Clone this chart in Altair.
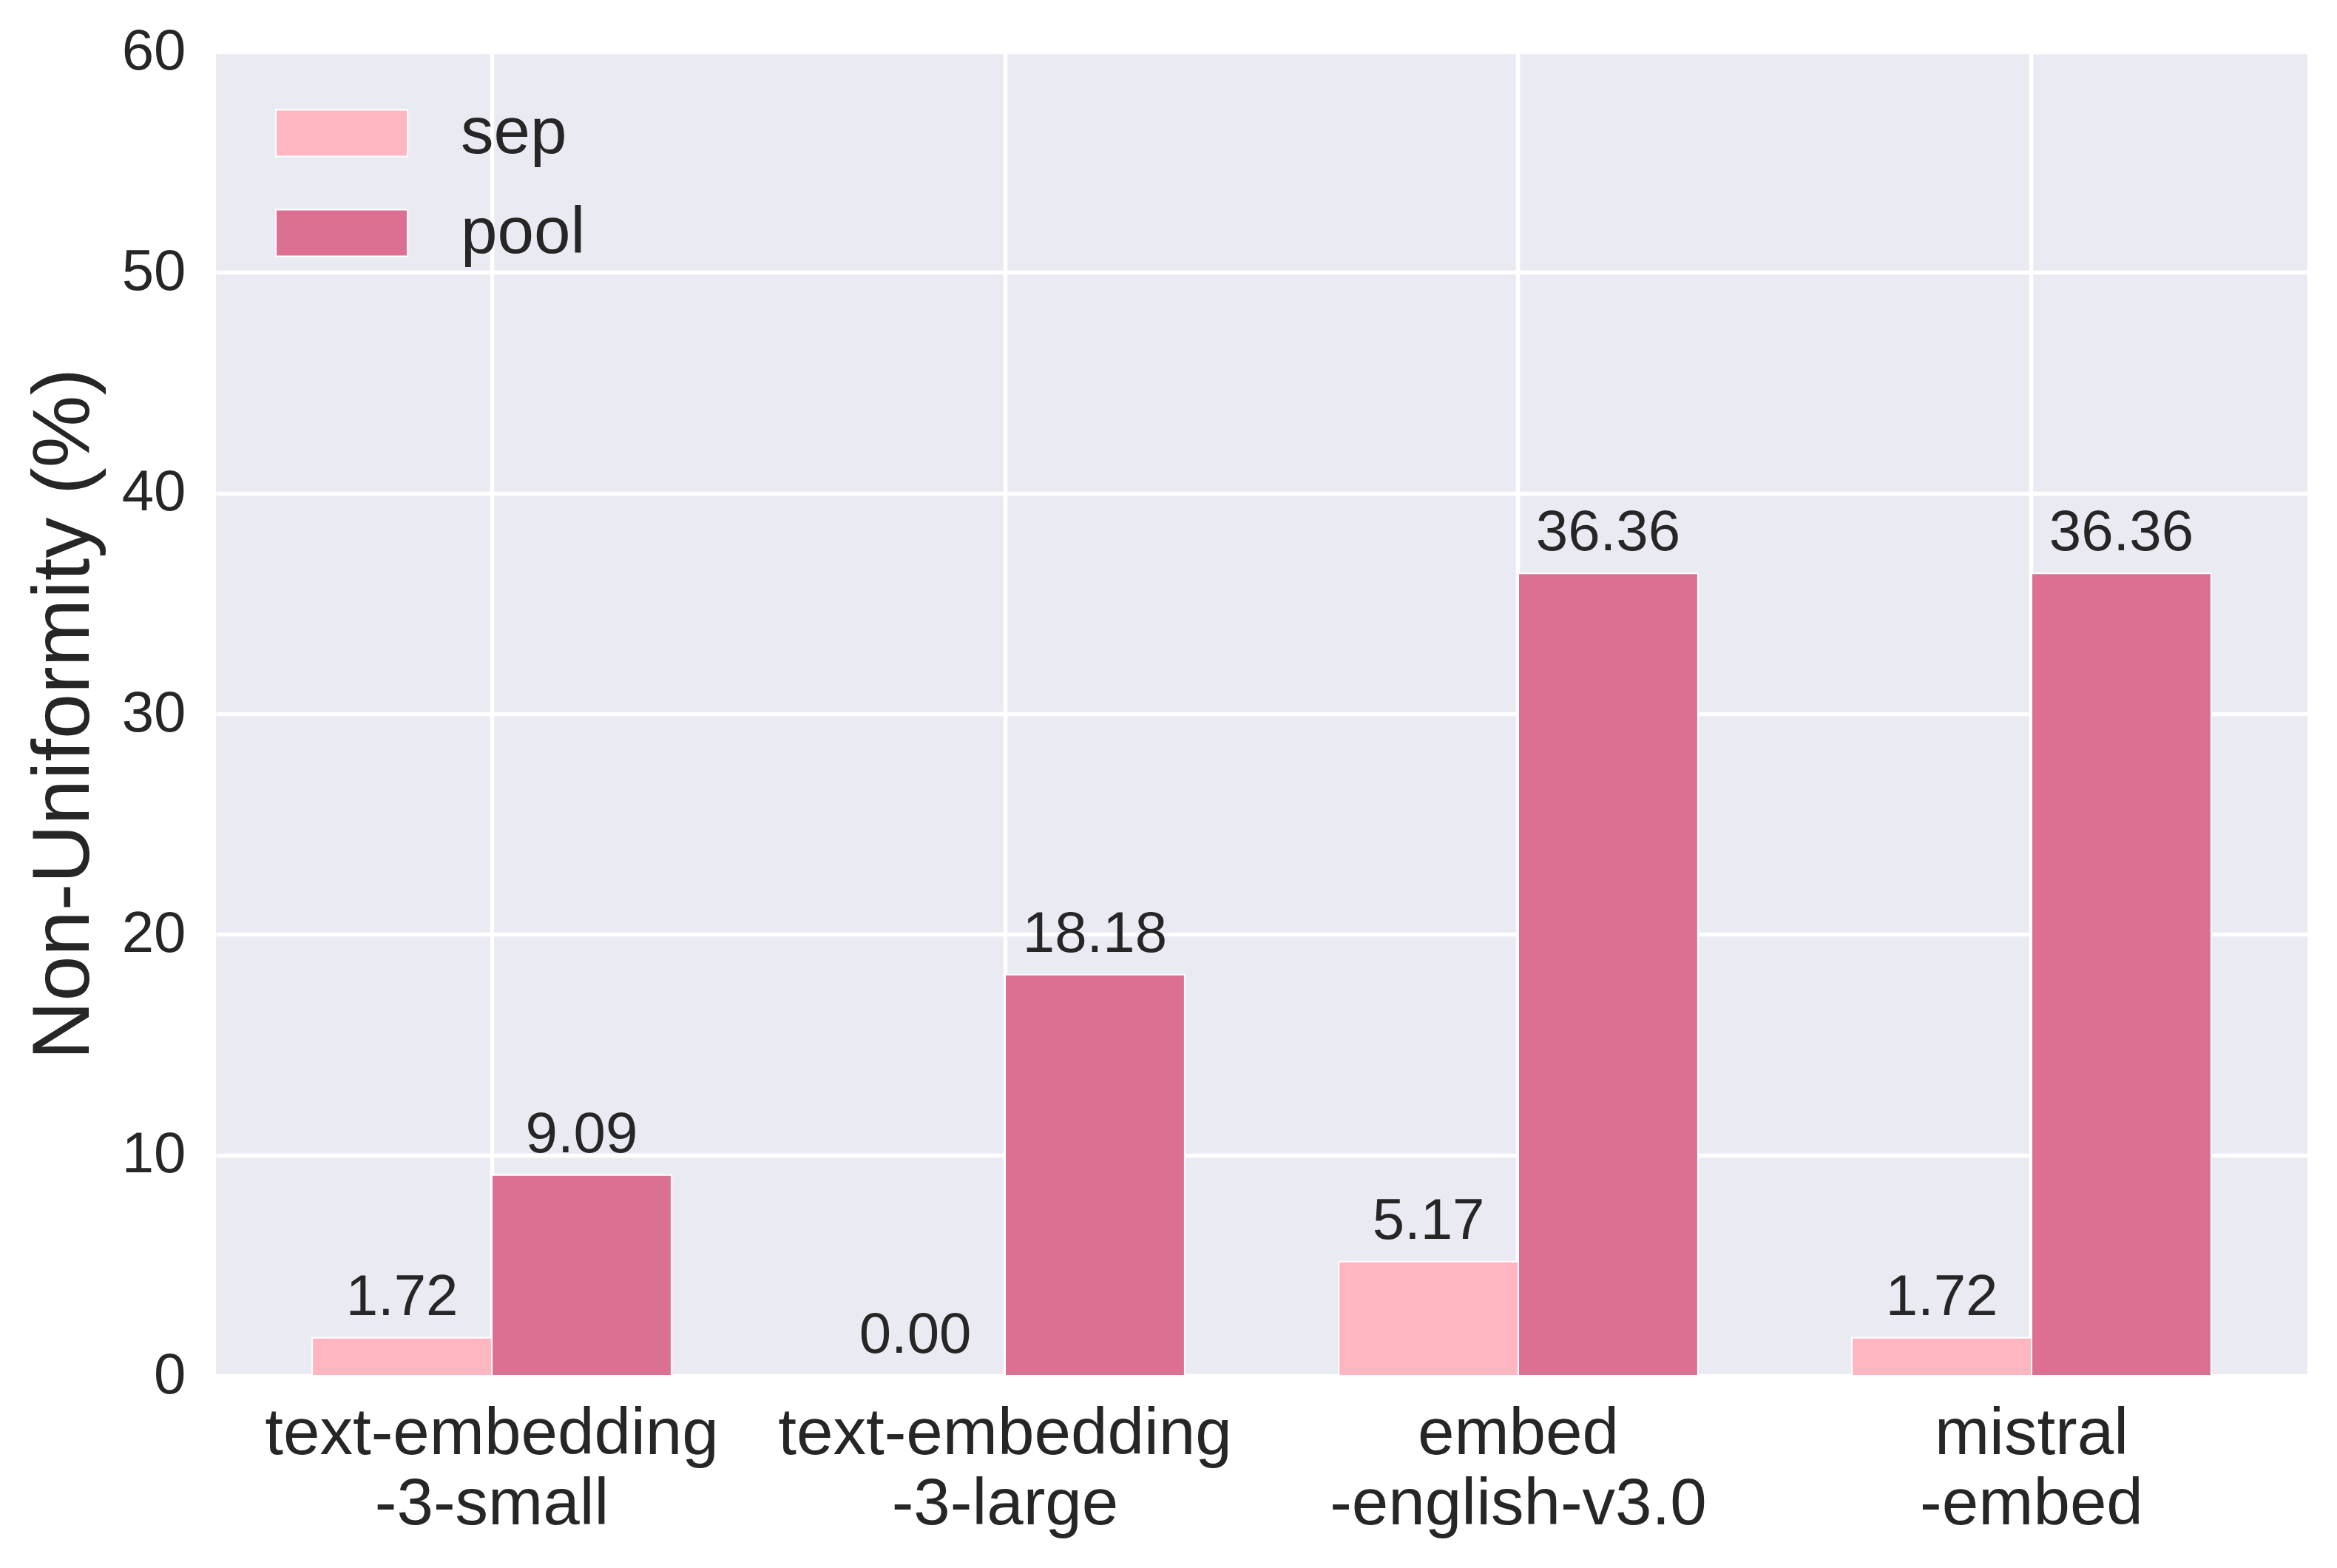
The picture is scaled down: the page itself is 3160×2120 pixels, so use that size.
import altair as alt
import pandas as pd

categories = ["text-embedding\n-3-small", "text-embedding\n-3-large", "embed\n-english-v3.0", "mistral\n-embed"]
series = ["sep", "pool"]
sep_values = [1.72, 0.00, 5.17, 1.72]
pool_values = [9.09, 18.18, 36.36, 36.36]
colors = ["#ffb6c1", "#db7093"]
y_ticks = [0, 10, 20, 30, 40, 50, 60]

rows = []
for c, s, p in zip(categories, sep_values, pool_values):
    rows.append({"model": c, "method": "sep", "value": s})
    rows.append({"model": c, "method": "pool", "value": p})
df = pd.DataFrame(rows)
df["label"] = df["value"].map(lambda v: f"{v:.2f}")

FONT = "Liberation Sans"
TXT = "#262626"

x_enc = alt.X(
    "model:N",
    sort=categories,
    scale=alt.Scale(paddingInner=0.3, paddingOuter=0.1875),
    axis=alt.Axis(
        title=None,
        labelExpr="split(datum.label, '\\n')",
        labelAngle=0,
        labelFontSize=89,
        labelLineHeight=95,
        labelPadding=35,
        labelLimit=0,
        labelColor=TXT,
        labelFont=FONT,
        ticks=False,
        tickSize=0,
        domain=False,
        grid=True,
        bandPosition=0.5,
        gridColor="white",
        gridWidth=5.5,
    ),
)
xoff = alt.XOffset("method:N", sort=series, scale=alt.Scale(paddingInner=0, paddingOuter=0))
y_enc = alt.Y(
    "value:Q",
    scale=alt.Scale(domain=[0, 60], nice=False),
    axis=alt.Axis(
        title="Non-Uniformity (%)",
        values=y_ticks,
        titleFontSize=110,
        titleFont=FONT,
        titleColor=TXT,
        titleFontWeight="normal",
        titlePadding=22,
        labelFontSize=78,
        labelFont=FONT,
        labelColor=TXT,
        labelPadding=41,
        ticks=False,
        tickSize=0,
        domain=False,
        grid=True,
        gridColor="white",
        gridWidth=5.5,
    ),
)
color_enc = alt.Color(
    "method:N",
    sort=series,
    scale=alt.Scale(domain=series, range=colors),
    legend=alt.Legend(
        title=None,
        orient="none",
        legendX=80,
        legendY=20,
        symbolType="M-1,-0.354L1,-0.354L1,0.354L-1,0.354Z",
        symbolSize=31684,
        symbolStrokeColor="white",
        symbolStrokeWidth=2,
        symbolOpacity=1,
        labelFontSize=89,
        labelFont=FONT,
        labelColor=TXT,
        labelOffset=71,
        labelLimit=0,
        rowPadding=-14,
        padding=0,
    ),
)

bars = alt.Chart(df).mark_bar(stroke="white", strokeWidth=2, opacity=1).encode(
    x=x_enc, xOffset=xoff, y=y_enc, color=color_enc
)
texts = alt.Chart(df).mark_text(
    baseline="alphabetic", align="center", dy=-31, fontSize=78, font=FONT, color=TXT
).encode(x=alt.X("model:N", sort=categories), xOffset=alt.XOffset("method:N", sort=series), y="value:Q", text="label:N")

chart = (
    alt.layer(bars, texts)
    .properties(
        width=2828,
        height=1790,
        autosize=alt.AutoSizeParams(type="none"),
        padding={"left": 284, "top": 62, "right": 32, "bottom": 230},
        background="white",
    )
    .configure_view(fill="#EAEAF2", stroke=None)
)

chart.save("out.html", embed_options={"renderer": "svg", "actions": False})
